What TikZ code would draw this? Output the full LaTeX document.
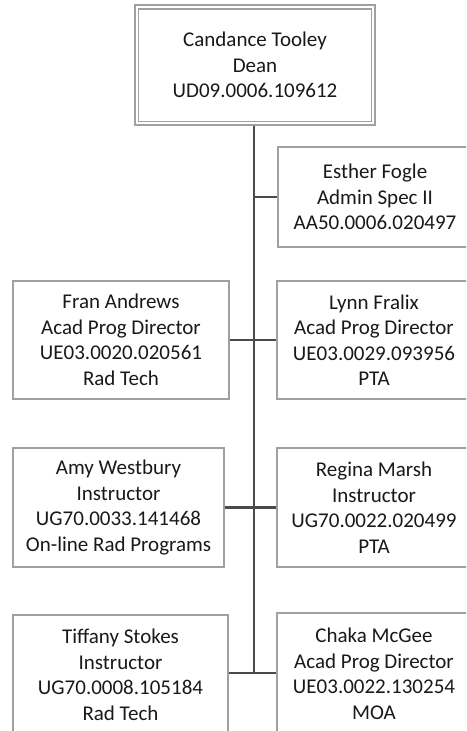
\documentclass[tikz,border=0pt]{standalone}
\usepackage{fontspec}
\setmainfont{Carlito}
\definecolor{boxline}{HTML}{A0A0A0}
\definecolor{conn}{HTML}{4A4A4A}
\begin{document}
\begin{tikzpicture}[x=1pt,y=1pt,
  box/.style={draw=boxline, line width=1.4pt, fill=white, align=center, inner sep=0pt,
    font=\fontsize{21}{25.5}\selectfont, text=black!90},
  link/.style={draw=conn, line width=2.2pt}]
\useasboundingbox (0,0) rectangle (466,-731);
\fill[white] (0,0) rectangle (466,-731);
\clip (0,0) rectangle (466,-731);
% nodes
\node[box, minimum width=240pt, minimum height=120pt] (dean) at (255,-65)
  {Candance Tooley\\Dean\\UD09.0006.109612};
\node[box, minimum width=194pt, minimum height=100pt] (esther) at (375,-197)
  {Esther Fogle\\Admin Spec II\\AA50.0006.020497};
\node[box, minimum width=216pt, minimum height=118pt] (fran) at (121,-340)
  {Fran Andrews\\Acad Prog Director\\UE03.0020.020561\\Rad Tech};
\node[box, minimum width=194pt, minimum height=118pt] (lynn) at (374,-340)
  {Lynn Fralix\\Acad Prog Director\\UE03.0029.093956\\PTA};
\node[box, minimum width=211pt, minimum height=119pt] (amy) at (118.5,-507.5)
  {Amy Westbury\\Instructor\\UG70.0033.141468\\On-line Rad Programs};
\node[box, minimum width=194pt, minimum height=119pt] (regina) at (374,-507.5)
  {Regina Marsh\\Instructor\\UG70.0022.020499\\PTA};
\node[box, minimum width=215pt, minimum height=120pt] (tiffany) at (120.5,-675)
  {Tiffany Stokes\\Instructor\\UG70.0008.105184\\Rad Tech};
\node[box, minimum width=194pt, minimum height=122pt] (chaka) at (374,-674)
  {Chaka McGee\\Acad Prog Director\\UE03.0022.130254\\MOA};
% inner border of the top box
\draw[boxline, line width=1.4pt] ([xshift=4pt,yshift=-4.5pt]dean.north west) rectangle ([xshift=-4pt,yshift=4pt]dean.south east);
% connectors
\coordinate (spineend) at (254,-673);
\draw[link] (dean.south -| spineend) -- (spineend);
\draw[link] (esther.west) -- (esther.west -| spineend);
\draw[link] (fran.east) -- (lynn.west);
\draw[link] (amy.east) -- (regina.west);
\draw[link] (tiffany.east |- spineend) -- (chaka.west |- spineend);
\end{tikzpicture}
\end{document}
